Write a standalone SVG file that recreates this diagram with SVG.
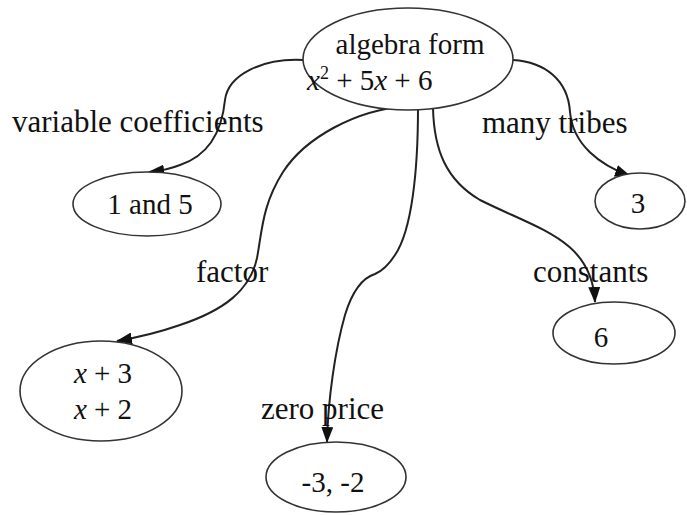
<svg xmlns="http://www.w3.org/2000/svg" width="687" height="515" viewBox="0 0 687 515">
<style>
.node{fill:#fff;stroke:#333;stroke-width:1.6}
.t{font-family:"Liberation Serif","Times New Roman",serif;font-size:29px;fill:#111}
.l{font-family:"Liberation Serif","Times New Roman",serif;font-size:31px;fill:#111}
.edge{fill:none;stroke:#222;stroke-width:2}
.i{font-style:italic}
</style>
<defs>
<marker id="arr" markerUnits="userSpaceOnUse" markerWidth="16" markerHeight="12" refX="15" refY="6" orient="auto">
<path d="M0,0 L16,6 L0,12 z" fill="#111"/>
</marker>
</defs>
<rect width="687" height="515" fill="#fff"/>
<g id="connectors">
<path class="edge" marker-end="url(#arr)" d="M303,60 C262,58 228,75 225,100 C222,130 210,155 180,165 C170,169 160,171 149,172"/>
<path class="edge" marker-end="url(#arr)" d="M513,60 C545,62 568,80 570,112 C573,145 600,165 630,176"/>
<path class="edge" marker-end="url(#arr)" d="M407,106 C355,110 305,138 283,172 C262,205 262,232 257,258 C250,290 225,310 180,325 C160,332 140,337 117,341"/>
<path class="edge" marker-end="url(#arr)" d="M418,108 C418,170 412,230 395,255 C388,266 382,271 375,274 C362,278 352,292 345,315 C335,350 328,400 327,442"/>
<path class="edge" marker-end="url(#arr)" d="M433,108 C434,150 446,180 480,200 C540,230 592,240 595,302"/>
<text class="l" x="12" y="132">variable coefficients</text>
<text class="l" x="482" y="133">many tribes</text>
<text class="l" x="196" y="282">factor</text>
<text class="l" x="533" y="282">constants</text>
<text class="l" x="261" y="419">zero price</text>
</g>
<g id="n_algebra">
<ellipse class="node" cx="408" cy="59" rx="105" ry="51"/>
<text class="t" x="410" y="54" text-anchor="middle" font-size="28.5">algebra form</text>
<text class="t" x="307" y="90"><tspan class="i">x</tspan><tspan dy="-11" font-size="18">2</tspan><tspan dy="11"> + 5</tspan><tspan class="i">x</tspan> + 6</text>
</g>
<g id="n_15">
<ellipse class="node" cx="147" cy="204" rx="74" ry="32"/>
<text class="t" x="150" y="214" text-anchor="middle">1 and 5</text>
</g>
<g id="n_3">
<ellipse class="node" cx="640" cy="201" rx="45" ry="28"/>
<text class="t" x="638" y="213" text-anchor="middle">3</text>
</g>
<g id="n_6">
<ellipse class="node" cx="614" cy="333" rx="61" ry="31"/>
<text class="t" x="601" y="347" text-anchor="middle">6</text>
</g>
<g id="n_factors">
<ellipse class="node" cx="101" cy="391" rx="81" ry="50"/>
<text class="t" x="103" y="383" text-anchor="middle"><tspan class="i">x</tspan> + 3</text>
<text class="t" x="103" y="419" text-anchor="middle"><tspan class="i">x</tspan> + 2</text>
</g>
<g id="n_zeros">
<ellipse class="node" cx="336" cy="477" rx="70" ry="35"/>
<text class="t" x="333" y="492" text-anchor="middle">-3, -2</text>
</g>
</svg>
